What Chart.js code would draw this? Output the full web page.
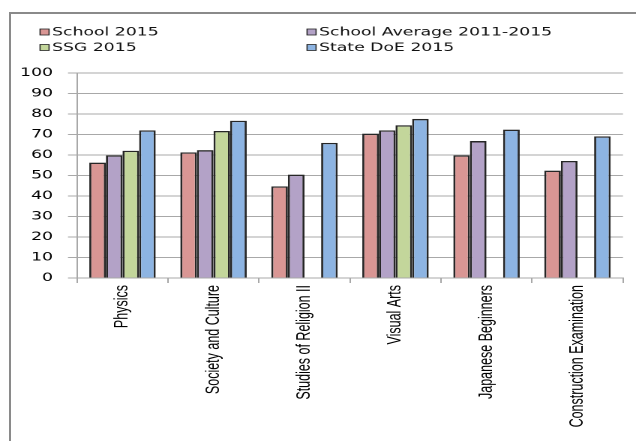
<!DOCTYPE html>
<html>
<head>
<meta charset="utf-8">
<script src="https://cdn.jsdelivr.net/npm/chart.js@4"></script>
<style>
  html, body { margin: 0; padding: 0; background: #fff; overflow: hidden; }
  body { width: 636px; height: 441px; position: relative; }
  #frame {
    position: absolute; left: 9px; top: 12px;
    width: 700px; height: 500px;
    border: 2px solid #8a8a8a; box-sizing: border-box;
  }
  /* the chart is laid out on a narrower canvas and widened to full width */
  #wrap {
    position: absolute; left: 0; top: 0;
    width: 424px; height: 441px;
    transform: scaleX(1.5); transform-origin: 0 0;
  }
</style>
</head>
<body>
<div id="frame"></div>
<div id="wrap"><canvas id="c" width="424" height="441"></canvas></div>
<script>
// Subjects
const categories = [
  'Physics',
  'Society and Culture',
  'Studies of Religion II',
  'Visual Arts',
  'Japanese Beginners',
  'Construction Examination'
];

// Mean results per subject
const school2015      = [56.3, 61.3, 44.7, 70.4, 59.8, 52.4];
const schoolAvg1115   = [59.8, 62.4, 50.4, 72.0, 66.8, 57.1];
const ssg2015         = [62.1, 71.7, null, 74.5, null, null];
const stateDoE2015    = [72.0, 76.7, 65.9, 77.6, 72.4, 69.1];

const seriesNames = ['School 2015', 'School Average 2011-2015', 'SSG 2015', 'State DoE 2015'];
const yTicks = [0, 10, 20, 30, 40, 50, 60, 70, 80, 90, 100];

const fills = ['#D99694', '#B3A2C7', '#C3D69B', '#8DB4E2'];
const edge = '#262626';
const gridGray = '#A8A8A8';
const textFont = '"DejaVu Sans", Verdana, sans-serif';

// Two-column legend above the plot
const legendPlugin = {
  id: 'twoColLegend',
  afterDraw(chart) {
    const ctx = chart.ctx;
    const cols = [26.7, 204.7];
    const rows = [32, 47.5];
    ctx.save();
    ctx.font = '11.5px ' + textFont;
    ctx.textBaseline = 'middle';
    ctx.textAlign = 'left';
    chart.data.datasets.forEach((ds, i) => {
      const x = cols[i % 2];
      const y = rows[Math.floor(i / 2)];
      ctx.fillStyle = ds.backgroundColor;
      ctx.fillRect(x, y - 3, 6, 6);
      ctx.strokeStyle = edge;
      ctx.lineWidth = 0.8;
      ctx.strokeRect(x, y - 3, 6, 6);
      ctx.fillStyle = '#111';
      ctx.fillText(ds.label, x + 8, y + 0.5);
    });
    ctx.restore();
  }
};

const seriesValues = [school2015, schoolAvg1115, ssg2015, stateDoE2015];

new Chart(document.getElementById('c'), {
  type: 'bar',
  data: {
    labels: categories,
    datasets: seriesValues.map((vals, i) => ({
      label: seriesNames[i],
      data: vals,
      backgroundColor: fills[i],
      borderColor: edge,
      borderWidth: 1.4,
      categoryPercentage: 0.73,
      barPercentage: 1.0
    }))
  },
  options: {
    responsive: false,
    animation: false,
    devicePixelRatio: 2,
    layout: { padding: { top: 73, right: 8.67, left: 0, bottom: 0 } },
    plugins: {
      legend: { display: false },
      tooltip: { enabled: false }
    },
    scales: {
      x: {
        afterFit(s) { s.height = 163; },
        grid: {
          offset: true,
          drawOnChartArea: false,
          drawTicks: true,
          tickLength: 5,
          color: gridGray
        },
        border: { color: gridGray },
        ticks: {
          minRotation: 90,
          maxRotation: 90,
          autoSkip: false,
          padding: 2,
          color: '#000',
          font: { family: '"Liberation Sans", Arial, sans-serif', size: 12.5 }
        }
      },
      y: {
        min: 0,
        max: 100,
        afterFit(s) { s.width = 51.33; },
        afterBuildTicks(s) { s.ticks = yTicks.map(v => ({ value: v })); },
        grid: { color: gridGray, tickLength: 6 },
        border: { color: gridGray },
        ticks: {
          padding: 10,
          color: '#000',
          font: { family: textFont, size: 11.5 }
        }
      }
    }
  },
  plugins: [legendPlugin]
});
</script>
</body>
</html>
